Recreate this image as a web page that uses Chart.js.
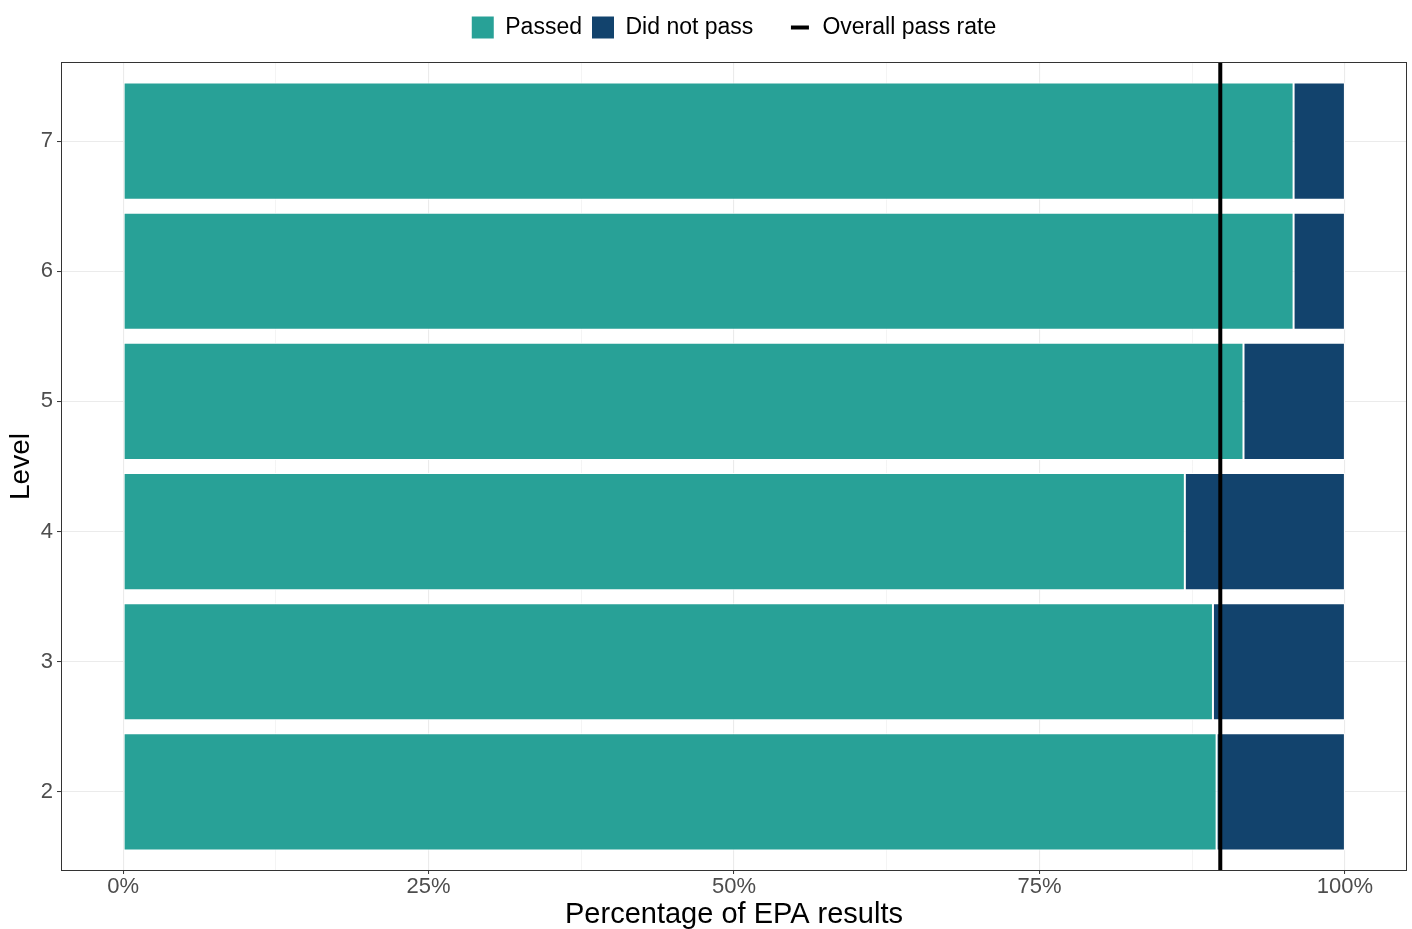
<!DOCTYPE html>
<html>
<head>
<meta charset="utf-8">
<script src="https://cdn.jsdelivr.net/npm/chart.js@4"></script>
<style>
html,body{margin:0;padding:0;background:#ffffff;overflow:hidden;}
#wrap{width:1412px;height:929px;}
canvas{display:block;}
</style>
</head>
<body>
<div id="wrap"><canvas id="c" width="1412" height="929"></canvas></div>
<script>
// ---- data ----
const levels = [7, 6, 5, 4, 3, 2];
const passedPct = [95.8, 95.8, 91.7, 86.9, 89.2, 89.5];
const notPassedPct = [4.2, 4.2, 8.3, 13.1, 10.8, 10.5];
const overallPassRate = 89.8;
const xTickValues = [0, 12.5, 25, 37.5, 50, 62.5, 75, 87.5, 100];
const xTickLabels = ['0%', '', '25%', '', '50%', '', '75%', '', '100%'];
const yTickValues = [2, 3, 4, 5, 6, 7];
const seriesNames = ['Passed', 'Did not pass', 'Overall pass rate'];
const seriesColors = ['#28A197', '#12436D', '#000000'];
const yRange = [1.4, 7.6];
const xRange = [-5, 105];

Chart.defaults.font.family = "'Liberation Sans', Arial, sans-serif";

// legend key for the reference line
const lineKey = document.createElement('canvas');
lineKey.width = 22; lineKey.height = 22;
(function(){ const g = lineKey.getContext('2d'); g.fillStyle = '#000'; g.fillRect(2, 9, 18, 4); })();

const panelBorder = {
  id: 'panelBorder',
  afterLayout(chart) {
    const lg = chart.legend, ca = chart.chartArea;
    if (lg) {
      const dx = (ca.left + ca.right) / 2 - (lg.left + lg.right) / 2;
      lg.left += dx; lg.right += dx;
      lg.top -= 14; lg.bottom -= 14;
    }
  },
  afterDatasetsDraw(chart) {
    const {ctx, chartArea: a} = chart;
    ctx.save();
    ctx.strokeStyle = '#333333';
    ctx.lineWidth = 1;
    ctx.strokeRect(a.left - 0.5, a.top - 0.5, a.right - a.left + 1, a.bottom - a.top + 1);
    ctx.restore();
  }
};

const toPoints = (vals) => vals.map((v, i) => ({x: v, y: levels[i]}));

new Chart(document.getElementById('c'), {
  data: {
    datasets: [
      { type: 'bar', label: seriesNames[0], data: toPoints(passedPct), backgroundColor: seriesColors[0],
        borderColor: '#ffffff', borderWidth: 1, borderSkipped: false, barPercentage: 0.9, categoryPercentage: 1, order: 1 },
      { type: 'bar', label: seriesNames[1], data: toPoints(notPassedPct), backgroundColor: seriesColors[1],
        borderColor: '#ffffff', borderWidth: 1, borderSkipped: false, barPercentage: 0.9, categoryPercentage: 1, order: 1 },
      { type: 'line', label: seriesNames[2], data: [{x: overallPassRate, y: yRange[0]}, {x: overallPassRate, y: yRange[1]}],
        borderColor: seriesColors[2], borderWidth: 4, pointRadius: 0, fill: false, order: 0 }
    ]
  },
  options: {
    indexAxis: 'y',
    responsive: false,
    animation: false,
    devicePixelRatio: 1,
    layout: { padding: { top: 20, right: 6, bottom: 0, left: 0 } },
    plugins: {
      tooltip: { enabled: false },
      legend: {
        position: 'top',
        labels: {
          usePointStyle: true,
          boxWidth: 22,
          boxHeight: 22,
          padding: 10,
          color: '#000000',
          font: { size: 23 },
          generateLabels: (chart) => chart.data.datasets.map((ds, i) => ({
            text: i === 1 ? ds.label + '    ' : ds.label,
            fillStyle: seriesColors[i],
            strokeStyle: seriesColors[i],
            lineWidth: 0,
            pointStyle: i === 2 ? lineKey : 'rect',
            fontColor: '#000000',
            hidden: false,
            datasetIndex: i
          }))
        }
      }
    },
    scales: {
      x: {
        type: 'linear', min: xRange[0], max: xRange[1], stacked: true, offset: false,
        afterBuildTicks: (s) => { s.ticks = xTickValues.map(v => ({value: v})); },
        afterFit: (s) => { s.height = 59; },
        border: { display: false },
        grid: {
          offset: false,
          color: '#EBEBEB',
          lineWidth: (ctx) => (xTickLabels[ctx.index] ? 1.1 : 0.55),
          tickColor: (ctx) => (xTickLabels[ctx.index] ? '#333333' : 'rgba(0,0,0,0)'),
          tickWidth: 1,
          tickLength: 4,
          drawTicks: true
        },
        ticks: {
          autoSkip: false, maxRotation: 0, padding: 0, color: '#4D4D4D', font: { size: 22 },
          callback: (v, i) => xTickLabels[i]
        },
        title: {
          display: true, text: 'Percentage of EPA results', color: '#000000',
          font: { size: 29, lineHeight: 1.0 }, padding: { top: 0, bottom: 0 }
        }
      },
      y: {
        type: 'linear', min: yRange[0], max: yRange[1], stacked: true, offset: false,
        afterBuildTicks: (s) => { s.ticks = yTickValues.map(v => ({value: v})); },
        afterFit: (s) => { s.width = 62; },
        border: { display: false },
        grid: { offset: false, color: '#EBEBEB', lineWidth: 1.1, tickColor: '#333333', tickWidth: 1, tickLength: 5 },
        ticks: { padding: 4, color: '#4D4D4D', font: { size: 22 }, callback: (v) => String(v) },
        title: {
          display: true, text: 'Level', color: '#000000',
          font: { size: 28, lineHeight: 1.2 }, padding: { top: 4, bottom: 0 }
        }
      }
    }
  },
  plugins: [panelBorder]
});
</script>
</body>
</html>
